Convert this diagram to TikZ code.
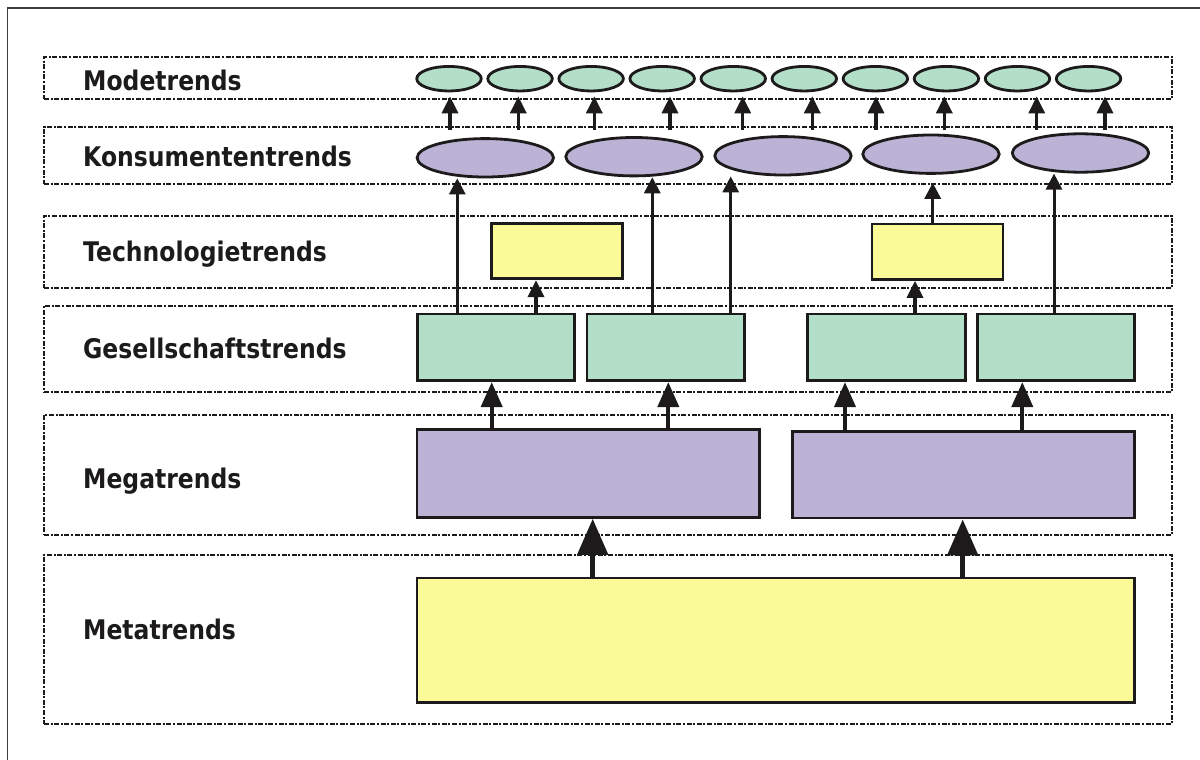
\documentclass[tikz,border=0pt]{standalone}
\usepackage{fontspec}
\newfontfamily\labelfont{DejaVu Sans}[FakeStretch=0.87]
\usetikzlibrary{shapes.geometric,arrows.meta,calc}
\definecolor{ink}{RGB}{28,26,26}
\definecolor{mint}{RGB}{179,222,200}
\definecolor{lilac}{RGB}{187,179,214}
\definecolor{lemon}{RGB}{250,250,152}
\begin{document}
\begin{tikzpicture}[x=1pt,y=-1pt,
  layer/.style={draw=ink, line width=1.9pt, dash pattern=on 5pt off 1.6pt on 2pt off 1.6pt, inner sep=0, rectangle},
  lbl/.style={anchor=base west, inner sep=0, text=ink, font=\labelfont\bfseries\fontsize{27}{30}\selectfont},
  box/.style={draw=ink, line width=2.8pt, rectangle, inner sep=0},
  oval/.style={draw=ink, line width=2.8pt, ellipse, inner sep=0},
  arrbig/.style={draw=ink, line width=5pt, -{Triangle[length=36pt,width=30pt]}},
  arrmid/.style={draw=ink, line width=4pt, -{Triangle[length=25pt,width=21pt]}},
  arrsmall/.style={draw=ink, line width=3.4pt, -{Triangle[length=17pt,width=16pt]}},
  arrlong/.style={draw=ink, line width=3pt, -{Triangle[length=16pt,width=16pt]}}
]
\useasboundingbox (0,0) rectangle (1200,760);
\fill[white] (0,0) rectangle (1200,760);

% outer frame (only left and top edges lie inside the page)
\draw[ink!85, line width=1.8pt] (7.5,760) -- (7.5,8.3) -- (1200,8.3);

% layers
\node[layer, minimum width=1128pt, minimum height=42pt]    (rowMode) at (608,78)     {};
\node[layer, minimum width=1128pt, minimum height=57.3pt]  (rowKons) at (608,155.35) {};
\node[layer, minimum width=1128pt, minimum height=72.3pt]  (rowTech) at (608,251.85) {};
\node[layer, minimum width=1128pt, minimum height=86pt]    (rowGes)  at (608,349)    {};
\node[layer, minimum width=1128pt, minimum height=120.3pt] (rowMega) at (608,474.85) {};
\node[layer, minimum width=1128pt, minimum height=169.3pt] (rowMeta) at (608,639.35) {};

% layer labels
\node[lbl] (lMode) at (83,91)  {Modetrends};
\node[lbl] (lKons) at (83,166) {Konsumententrends};
\node[lbl] (lTech) at (83,261) {Technologietrends};
\node[lbl] (lGes)  at (83,358) {Gesellschaftstrends};
\node[lbl] (lMega) at (83,488) {Megatrends};
\node[lbl] (lMeta) at (83,639.3) {Metatrends};

% fashion trends
\foreach \i in {1,...,10}
  \node[oval, fill=mint, minimum width=64.5pt, minimum height=24.5pt] (me\i) at ({449+71.06*(\i-1)},78.7) {};

% consumer trends
\node[oval, fill=lilac, minimum width=136.4pt, minimum height=38.4pt] (k1) at (485.3,157.8) {};
\node[oval, fill=lilac, minimum width=136.4pt, minimum height=38.4pt] (k2) at (634,156.7) {};
\node[oval, fill=lilac, minimum width=136.4pt, minimum height=38.4pt] (k3) at (783,155.8) {};
\node[oval, fill=lilac, minimum width=136.4pt, minimum height=38.4pt] (k4) at (931,154.2) {};
\node[oval, fill=lilac, minimum width=136.4pt, minimum height=38.4pt] (k5) at (1080.5,153) {};

% technology trends
\node[box, fill=lemon, minimum width=131.4pt, minimum height=55.1pt] (t1) at (557,251.15) {};
\node[box, fill=lemon, minimum width=131pt,   minimum height=55.4pt] (t2) at (937.5,251.7) {};

% society trends
\node[box, fill=mint, minimum width=157.5pt, minimum height=66.7pt] (g1) at (495.85,347.35) {};
\node[box, fill=mint, minimum width=157.5pt, minimum height=66.7pt] (g2) at (665.7,347.35) {};
\node[box, fill=mint, minimum width=157.5pt, minimum height=66.7pt] (g3) at (886.35,347.35) {};
\node[box, fill=mint, minimum width=157.5pt, minimum height=66.7pt] (g4) at (1056,347.35) {};

% megatrends
\node[box, fill=lilac, minimum width=342.7pt, minimum height=87.8pt] (m1) at (588.35,473.5) {};
\node[box, fill=lilac, minimum width=342.4pt, minimum height=86.7pt] (m2) at (963.5,474.65) {};

% metatrends
\node[box, fill=lemon, minimum width=717.7pt, minimum height=124.7pt] (meta) at (775.85,640.35) {};

% vertical guides for the connectors
\coordinate (xa1) at (592.7,0);
\coordinate (xa2) at (962.7,0);
\coordinate (xb1) at (491.7,0);
\coordinate (xb2) at (668.3,0);
\coordinate (xb3) at (845,0);
\coordinate (xb4) at (1022.3,0);
\coordinate (xc1) at (536,0);
\coordinate (xc2) at (915,0);
\coordinate (xd1) at (457.3,0);
\coordinate (xd2) at (652.3,0);
\coordinate (xd3) at (730.7,0);
\coordinate (xd4) at (932.7,0);
\coordinate (xd5) at (1054,0);

% metatrends -> megatrends
\draw[arrbig] (xa1 |- meta.north) -- (xa1 |- m1.south);
\draw[arrbig] (xa2 |- meta.north) -- (xa2 |- m2.south);

% megatrends -> society trends
\draw[arrmid] (xb1 |- m1.north) -- (xb1 |- g1.south);
\draw[arrmid] (xb2 |- m1.north) -- (xb2 |- g2.south);
\draw[arrmid] (xb3 |- m2.north) -- (xb3 |- g3.south);
\draw[arrmid] (xb4 |- m2.north) -- (xb4 |- g4.south);

% society trends -> technology trends
\draw[arrsmall] (xc1 |- g1.north) -- (xc1 |- t1.south);
\draw[arrsmall] (xc2 |- g3.north) -- (xc2 |- t2.south);

% society / technology trends -> consumer trends
\draw[arrlong] (xd1 |- g1.north) -- (xd1 |- k1.south);
\draw[arrlong] (xd2 |- g2.north) -- (xd2 |- k2.south);
\draw[arrlong] (xd3 |- g2.north) -- (xd3 |- k3.south);
\draw[arrlong] (xd4 |- t2.north) -- ($(xd4 |- k4.south)+(0,8)$);
\draw[arrlong] (xd5 |- g4.north) -- (xd5 |- k5.south);

% consumer trends -> fashion trends
\foreach \x [count=\i] in {450,518.3,594.3,670,742.7,812.3,876,944.3,1036.7,1105} {
  \coordinate (mt\i) at (\x,130);
  \draw[arrsmall] (mt\i) -- ($(mt\i |- me\i.south)+(0,4)$);
}
\end{tikzpicture}
\end{document}
